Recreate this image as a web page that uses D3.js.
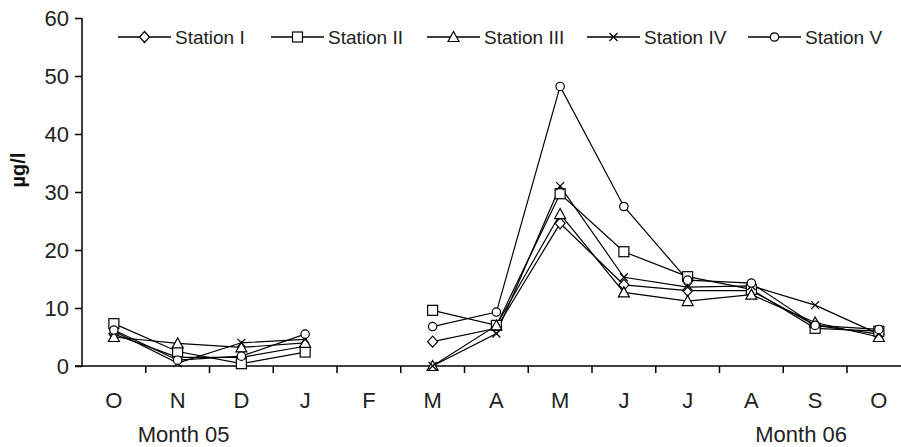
<!DOCTYPE html>
<html>
<head>
<meta charset="utf-8">
<script src="https://cdn.jsdelivr.net/npm/d3@7"></script>
<style>
  body { margin: 0; background: #fff; }
  svg { display: block; font-family: "Liberation Sans", Arial, sans-serif; }
  .axis path, .axis line { stroke: #000; stroke-width: 1.5; }
  .axis text { font-size: 22px; fill: #222; }
  .legend-label { font-size: 19px; fill: #222; }
</style>
</head>
<body>
<div id="chart"></div>
<script>
// categories: Oct 05 .. Oct 06
const months = ["O", "N", "D", "J", "F", "M", "A", "M", "J", "J", "A", "S", "O"];
const monthKeys = months.map((m, i) => m + i);

// series values (null = no sample)
const station1 = [5.5, 1.5, 1.5, 3.4, null, 4.2, 6.5, 24.6, 14.0, 13.0, 13.0, 7.0, 5.5];
const station2 = [7.3, 2.5, 0.4, 2.4, null, 9.6, 7.0, 29.7, 19.7, 15.4, 13.2, 6.5, 6.0];
const station3 = [5.0, 3.9, 3.2, 4.0, null, 0.0, 7.0, 26.2, 12.7, 11.2, 12.3, 7.5, 5.0];
const station4 = [6.0, 0.5, 4.0, 4.6, null, 0.0, 5.6, 31.0, 15.3, 13.6, 13.8, 10.5, 5.5];
const station5 = [6.2, 1.0, 1.7, 5.5, null, 6.8, 9.3, 48.2, 27.5, 14.8, 14.3, 7.0, 6.3];

const stationNames = ["Station I", "Station II", "Station III", "Station IV", "Station V"];
const stationValues = [station1, station2, station3, station4, station5];
const stationMarkers = ["diamond", "square", "triangle", "cross", "circle"];

const yTicks = [0, 10, 20, 30, 40, 50, 60];

function drawChart() {
  const width = 901, height = 447;
  const margin = { top: 18, right: 0, bottom: 81, left: 82 };

  const svg = d3.select("#chart").append("svg")
    .attr("width", width)
    .attr("height", height);

  const x = d3.scaleBand()
    .domain(monthKeys)
    .range([margin.left, margin.left + 13 * 63.75]);

  const y = d3.scaleLinear()
    .domain([0, 60])
    .range([height - margin.bottom, margin.top]);

  // y axis
  const yAxis = svg.append("g")
    .attr("class", "axis")
    .attr("transform", `translate(${margin.left},0)`)
    .call(d3.axisLeft(y).tickValues(yTicks).tickSize(7).tickPadding(6).tickSizeOuter(0));
  yAxis.select(".domain").attr("d", `M0,${y(60)}V${y(0)}`);

  // x axis: ticks between categories
  const xAxisG = svg.append("g").attr("class", "axis");
  xAxisG.append("line")
    .attr("x1", margin.left - 7).attr("x2", width)
    .attr("y1", y(0)).attr("y2", y(0));
  monthKeys.forEach((k, i) => {
    const bx = x(k) + x.bandwidth();
    xAxisG.append("line")
      .attr("x1", bx).attr("x2", bx)
      .attr("y1", y(0)).attr("y2", y(0) + 7);
    xAxisG.append("text")
      .attr("x", x(k) + x.bandwidth() / 2)
      .attr("y", y(0) + 42)
      .attr("text-anchor", "middle")
      .text(months[i]);
  });

  xAxisG.append("text")
    .attr("x", x(monthKeys[1]) + x.bandwidth() / 2 + 6)
    .attr("y", y(0) + 76)
    .attr("text-anchor", "middle")
    .text("Month 05");
  xAxisG.append("text")
    .attr("x", x(monthKeys[11]) + x.bandwidth() / 2 - 14)
    .attr("y", y(0) + 76)
    .attr("text-anchor", "middle")
    .text("Month 06");

  // y label
  svg.append("text")
    .attr("transform", `translate(25,${170}) rotate(-90)`)
    .attr("text-anchor", "middle")
    .style("font-size", "20px")
    .style("font-weight", "bold")
    .style("fill", "#111")
    .text("µg/l");

  // marker drawer
  function drawMarker(g, type, cx, cy) {
    if (type === "square") {
      g.append("rect").attr("x", cx - 5).attr("y", cy - 5).attr("width", 10).attr("height", 10)
        .attr("fill", "#fff").attr("stroke", "#000").attr("stroke-width", 1.2);
    } else if (type === "circle") {
      g.append("circle").attr("cx", cx).attr("cy", cy).attr("r", 4.2)
        .attr("fill", "#fff").attr("stroke", "#000").attr("stroke-width", 1.2);
    } else if (type === "diamond") {
      g.append("path").attr("d", `M${cx},${cy - 5.5}L${cx + 5},${cy}L${cx},${cy + 5.5}L${cx - 5},${cy}Z`)
        .attr("fill", "#fff").attr("stroke", "#000").attr("stroke-width", 1.2);
    } else if (type === "triangle") {
      g.append("path").attr("d", `M${cx},${cy - 5.5}L${cx + 5.5},${cy + 4.5}L${cx - 5.5},${cy + 4.5}Z`)
        .attr("fill", "#fff").attr("stroke", "#000").attr("stroke-width", 1.2);
    } else if (type === "cross") {
      g.append("path").attr("d", `M${cx - 4},${cy - 4}L${cx + 4},${cy + 4}M${cx + 4},${cy - 4}L${cx - 4},${cy + 4}`)
        .attr("fill", "none").attr("stroke", "#000").attr("stroke-width", 1.2);
    }
  }

  const lineGen = d3.line()
    .defined(d => d.v !== null)
    .x(d => x(d.k) + x.bandwidth() / 2)
    .y(d => y(d.v));

  const plot = svg.append("g");
  stationValues.forEach(vals => {
    const pts = vals.map((v, i) => ({ k: monthKeys[i], v }));
    plot.append("path")
      .datum(pts)
      .attr("d", lineGen)
      .attr("fill", "none")
      .attr("stroke", "#000")
      .attr("stroke-width", 1.2);
  });
  stationValues.forEach((vals, s) => {
    const mg = plot.append("g");
    vals.forEach((v, i) => {
      if (v === null) return;
      drawMarker(mg, stationMarkers[s], x(monthKeys[i]) + x.bandwidth() / 2, y(v));
    });
  });

  // legend
  const legendX = [118, 271, 427, 587, 748];
  const legendY = 37;
  stationNames.forEach((name, i) => {
    const lg = svg.append("g").attr("transform", `translate(${legendX[i]},${legendY})`);
    lg.append("line").attr("x1", 0).attr("x2", 53).attr("y1", 0).attr("y2", 0)
      .attr("stroke", "#000").attr("stroke-width", 1.3);
    drawMarker(lg, stationMarkers[i], 26.5, 0);
    lg.append("text")
      .attr("class", "legend-label")
      .attr("x", 57).attr("y", 7)
      .text(name);
  });
}

drawChart();
</script>
</body>
</html>
